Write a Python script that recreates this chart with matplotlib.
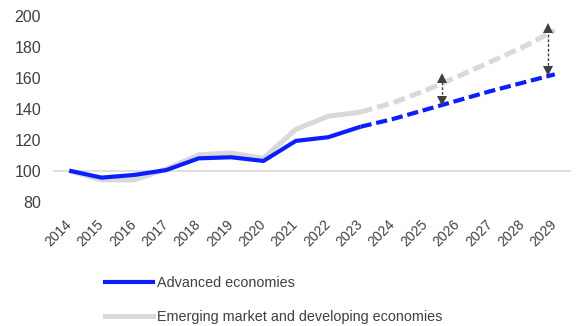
#! /usr/bin/env python3
# coding: utf-8

import numpy as np
import matplotlib
matplotlib.use('Agg')
import matplotlib.pyplot as plt

plt.rcParams['font.family'] = ['Liberation Sans', 'DejaVu Sans']

TEXT_COLOR = '#404040'
BLUE = '#0a1eff'
GREY = '#d9d9d9'

years = list(range(2014, 2030))
advanced = [100, 95.5, 97.2, 100.4, 108, 108.7, 106.3, 119.3, 121.7, 128.5,
            133.5, 139.5, 145.5, 151.5, 157, 162.5]
emerging = [100, 94, 94, 101, 110.3, 111.5, 108, 126.8, 135.3, 138,
            144, 152, 161, 170.5, 180, 191]
last_actual = 2023
gap_years = [2025.5, 2028.8]

x = np.array(years)
adv = np.array(advanced)
emd = np.array(emerging)
cut = years.index(last_actual) + 1

fig = plt.figure(figsize=(5.8, 3.26), dpi=100)
ax = fig.add_axes([53 / 580, 1 - 201.5 / 326, 518 / 580, 185 / 326])

# the category axis sits on the 100 line
ax.axhline(100, color=GREY, lw=1.2, zorder=1)

ax.plot(x[:cut], emd[:cut], color=GREY, lw=3.6, solid_capstyle='butt', zorder=2)
ax.plot(x[cut - 1:], emd[cut - 1:], color=GREY, lw=3.6, dashes=(2.4, 1.05),
        dash_capstyle='butt', zorder=2)
ax.plot(x[:cut], adv[:cut], color=BLUE, lw=3.0, solid_capstyle='butt', zorder=3)
ax.plot(x[cut - 1:], adv[cut - 1:], color=BLUE, lw=3.0, dashes=(2.7, 1.15),
        dash_capstyle='butt', zorder=3)

# dashed double arrows showing the widening gap
for gx in gap_years:
    lo = np.interp(gx, x, adv)
    hi = np.interp(gx, x, emd)
    ax.plot([gx, gx], [lo + 4, hi + 2], color=TEXT_COLOR, lw=1.0, ls=(0, (2, 1.4)), zorder=4)
    ax.plot(gx, hi + 3.8, marker='^', ms=7, color=TEXT_COLOR, mew=0, zorder=5)
    ax.plot(gx, lo + 3.0, marker='v', ms=7, color=TEXT_COLOR, mew=0, zorder=5)

ax.set_xlim(2013.5, 2029.5)
ax.set_ylim(80, 200)
ax.set_yticks(range(80, 201, 20))
ax.set_xticks(years)
ax.set_xticklabels([str(y) for y in years], rotation=45, ha='right', va='center',
                   rotation_mode='anchor', fontsize=10, color=TEXT_COLOR)
ax.tick_params(axis='x', length=0, pad=15)
ax.tick_params(axis='y', length=0, pad=8.5, labelsize=11.5, labelcolor=TEXT_COLOR)
for side in ax.spines.values():
    side.set_visible(False)

handles = [plt.Line2D([], [], color=BLUE, lw=3.0),
           plt.Line2D([], [], color=GREY, lw=3.6)]
labels = ['Advanced economies', 'Emerging market and developing economies']
fig.legend(handles, labels, loc='upper left', bbox_to_anchor=(105 / 580, 1 - 276 / 326),
           frameon=False, borderpad=0, borderaxespad=0, handlelength=3.3,
           handletextpad=0.3, labelspacing=1.36, fontsize=10.4, labelcolor=TEXT_COLOR)

fig.savefig('out.png', dpi=100)
